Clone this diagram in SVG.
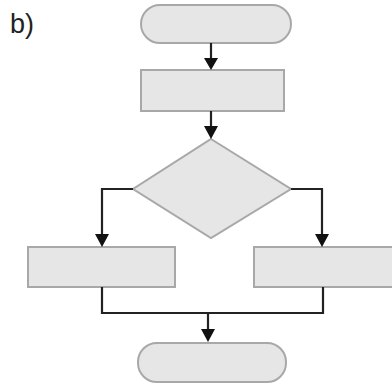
<svg xmlns="http://www.w3.org/2000/svg" width="392" height="385" viewBox="0 0 392 385">
<defs>
<marker id="ah" viewBox="0 0 10 10" refX="10" refY="5" markerWidth="6" markerHeight="6" markerUnits="userSpaceOnUse" orient="auto">
<path d="M0,0 L10,5 L0,10 Z" fill="#111"/>
</marker>
<style>
.n{fill:#e6e6e6;stroke:#a8a8a8;stroke-width:2}
.c{fill:none;stroke:#222;stroke-width:2.2}
.a{fill:#111}
.lbl{font-family:"Liberation Sans",Arial,sans-serif;font-size:27px;fill:#222}
</style>
</defs>
<rect width="392" height="385" fill="#fff"/>
<text class="lbl" x="10" y="33">b)</text>
<g id="start"><rect class="n" x="141" y="5" width="150" height="38" rx="19"/></g>
<g id="process"><rect class="n" x="141" y="70" width="143" height="41"/></g>
<g id="decision"><polygon class="n" points="211,139 291,189 211,238 133,189"/></g>
<g id="left"><rect class="n" x="28" y="247" width="147" height="40"/></g>
<g id="right"><rect class="n" x="254" y="247" width="145" height="40"/></g>
<g id="end"><rect class="n" x="138" y="343" width="148" height="39" rx="19"/></g>
<g id="connectors">
<path class="c" d="M211,43 V60"/>
<path class="a" d="M204,58 L218,58 L211,70 Z"/>
<path class="c" d="M211,111 V128"/>
<path class="a" d="M204,126 L218,126 L211,139 Z"/>
<path class="c" d="M133,189 H102 V236"/>
<path class="a" d="M95,234 L109,234 L102,247 Z"/>
<path class="c" d="M291,189 H322 V236"/>
<path class="a" d="M315,234 L329,234 L322,247 Z"/>
<path class="c" d="M102,287 V313 H323 V287"/>
<path class="c" d="M208,313 V331"/>
<path class="a" d="M201,329 L215,329 L208,342 Z"/>
</g>
</svg>
